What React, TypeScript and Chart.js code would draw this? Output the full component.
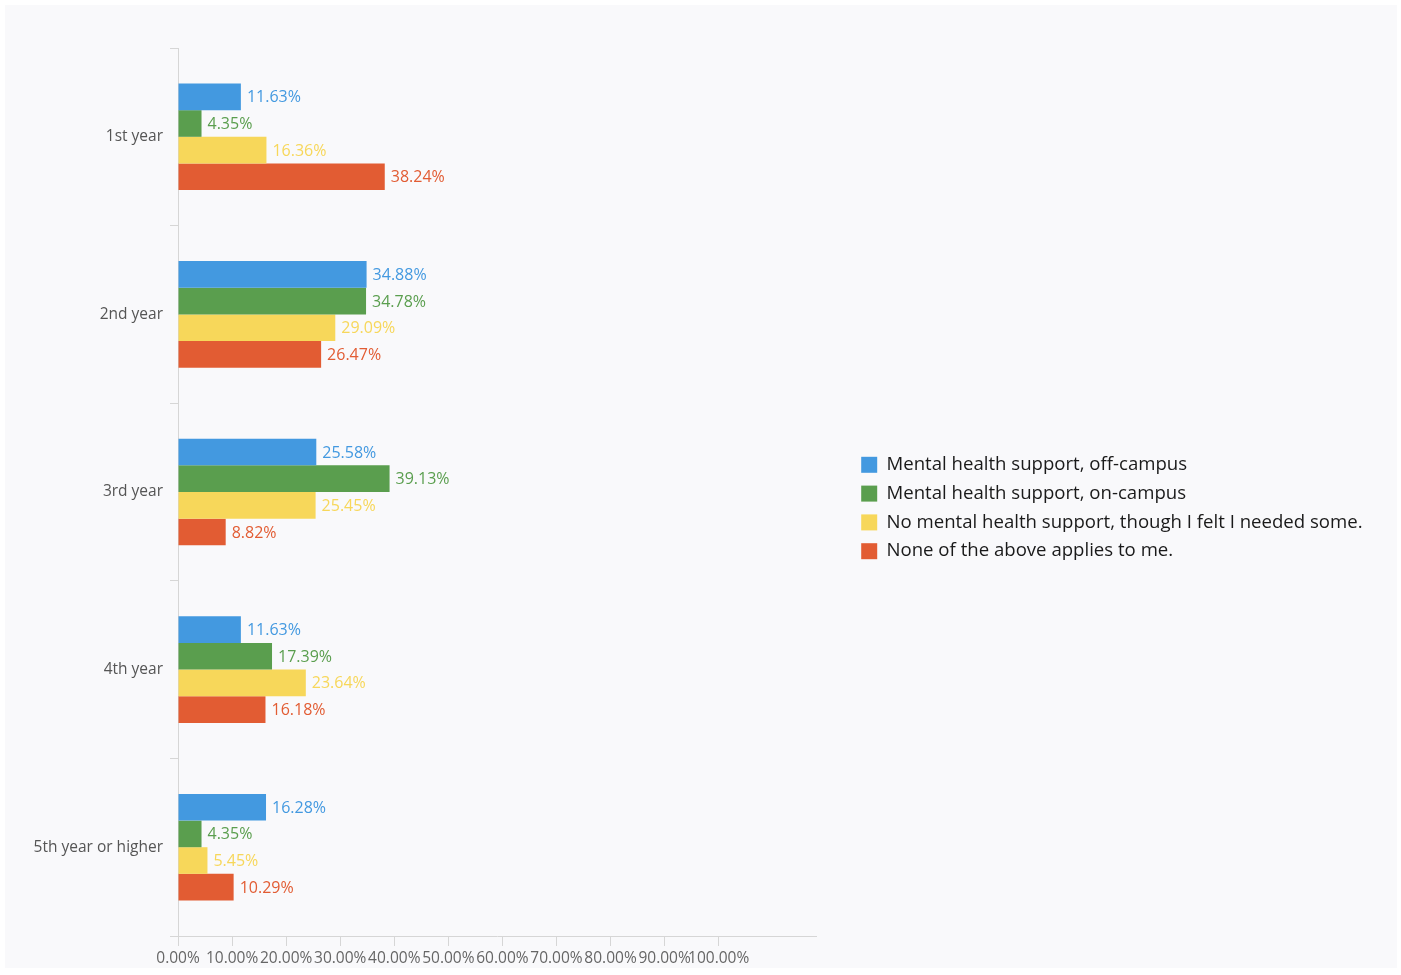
import React, { useEffect, useRef } from "react";
import { Chart, registerables } from "chart.js";

Chart.register(...registerables);

const categories = ["1st year", "2nd year", "3rd year", "4th year", "5th year or higher"];
const seriesLabels = [
  "Mental health support, off-campus",
  "Mental health support, on-campus",
  "No mental health support, though I felt I needed some.",
  "None of the above applies to me.",
];
const offCampus = [11.63, 34.88, 25.58, 11.63, 16.28];
const onCampus = [4.35, 34.78, 39.13, 17.39, 4.35];
const noSupport = [16.36, 29.09, 25.45, 23.64, 5.45];
const noneApply = [38.24, 26.47, 8.82, 16.18, 10.29];
const seriesColors = ["#4399e0", "#5a9e4e", "#f7d75a", "#e25c33"];
const xTicks = [0, 10, 20, 30, 40, 50, 60, 70, 80, 90, 100];
const xMax = 118;

const FONT = "'Open Sans', 'Noto Sans', sans-serif";

const valueLabels = {
  id: "valueLabels",
  afterDatasetsDraw(chart: any) {
    const ctx = chart.ctx;
    ctx.save();
    ctx.font = `16px ${FONT}`;
    ctx.textBaseline = "middle";
    ctx.textAlign = "left";
    chart.data.datasets.forEach((ds: any, i: number) => {
      const meta = chart.getDatasetMeta(i);
      meta.data.forEach((el: any, j: number) => {
        ctx.fillStyle = ds.backgroundColor;
        ctx.fillText(Number(ds.data[j]).toFixed(2) + "%", el.x + 6, el.y + 1);
      });
    });
    ctx.restore();
  },
};

const legendWidth = {
  id: "legendWidth",
  beforeLayout(chart: any) {
    const lg = chart.legend;
    if (lg && !lg._patchedFit) {
      const orig = lg.fit;
      lg.fit = function () {
        orig.call(this);
        this.width = 546;
      };
      lg._patchedFit = true;
    }
  },
};

export default function App() {
  const ref = useRef<HTMLCanvasElement | null>(null);

  useEffect(() => {
    if (!ref.current) return;
    const data = [offCampus, onCampus, noSupport, noneApply];
    const chart = new Chart(ref.current, {
      type: "bar",
      data: {
        labels: categories,
        datasets: data.map((d, i) => ({
          label: seriesLabels[i],
          data: d,
          backgroundColor: seriesColors[i],
          borderWidth: 0,
          barPercentage: 1,
          categoryPercentage: 0.6,
        })),
      },
      options: {
        indexAxis: "y",
        animation: false,
        responsive: false,
        layout: { padding: { top: 43, left: 0, right: 0, bottom: 0 } },
        plugins: {
          tooltip: { enabled: false },
          legend: {
            position: "right",
            labels: {
              boxWidth: 16,
              boxHeight: 16,
              padding: 10.2,
              color: "#1a1a1a",
              font: { size: 18.6, family: FONT },
            },
          },
        },
        scales: {
          x: {
            min: 0,
            max: xMax,
            afterBuildTicks(scale: any) {
              scale.ticks = xTicks.map((v) => ({ value: v }));
            },
            afterFit(scale: any) {
              scale.height = 32;
            },
            grid: {
              drawOnChartArea: false,
              drawTicks: true,
              tickLength: 10,
              color: "#d6d6d6",
            },
            border: { display: true, color: "#d6d6d6" },
            ticks: {
              autoSkip: false,
              maxRotation: 0,
              minRotation: 0,
              padding: 3,
              color: "#666",
              font: { size: 15.5, family: FONT },
              callback: (v: any) => Number(v).toFixed(2) + "%",
            },
          },
          y: {
            afterFit(scale: any) {
              scale.width = 173;
            },
            grid: {
              drawOnChartArea: false,
              drawTicks: true,
              tickLength: 8,
              offset: true,
              color: "#d6d6d6",
            },
            border: { display: true, color: "#d6d6d6" },
            ticks: {
              padding: 7,
              color: "#555",
              font: { size: 15.5, family: FONT },
            },
          },
          yPad: {
            type: "linear",
            axis: "y",
            position: "right",
            display: true,
            grid: { display: false },
            border: { display: false },
            ticks: { display: false },
            afterFit(scale: any) {
              scale.width = 35;
            },
          },
        },
      } as any,
      plugins: [valueLabels, legendWidth],
    });
    return () => chart.destroy();
  }, []);

  return (
    <div
      style={{
        position: "fixed",
        left: 5,
        top: 5,
        width: 1392,
        height: 963,
        background: "#f9f9fb",
      }}
    >
      <canvas ref={ref} width={1392} height={963} style={{ display: "block" }} />
    </div>
  );
}
